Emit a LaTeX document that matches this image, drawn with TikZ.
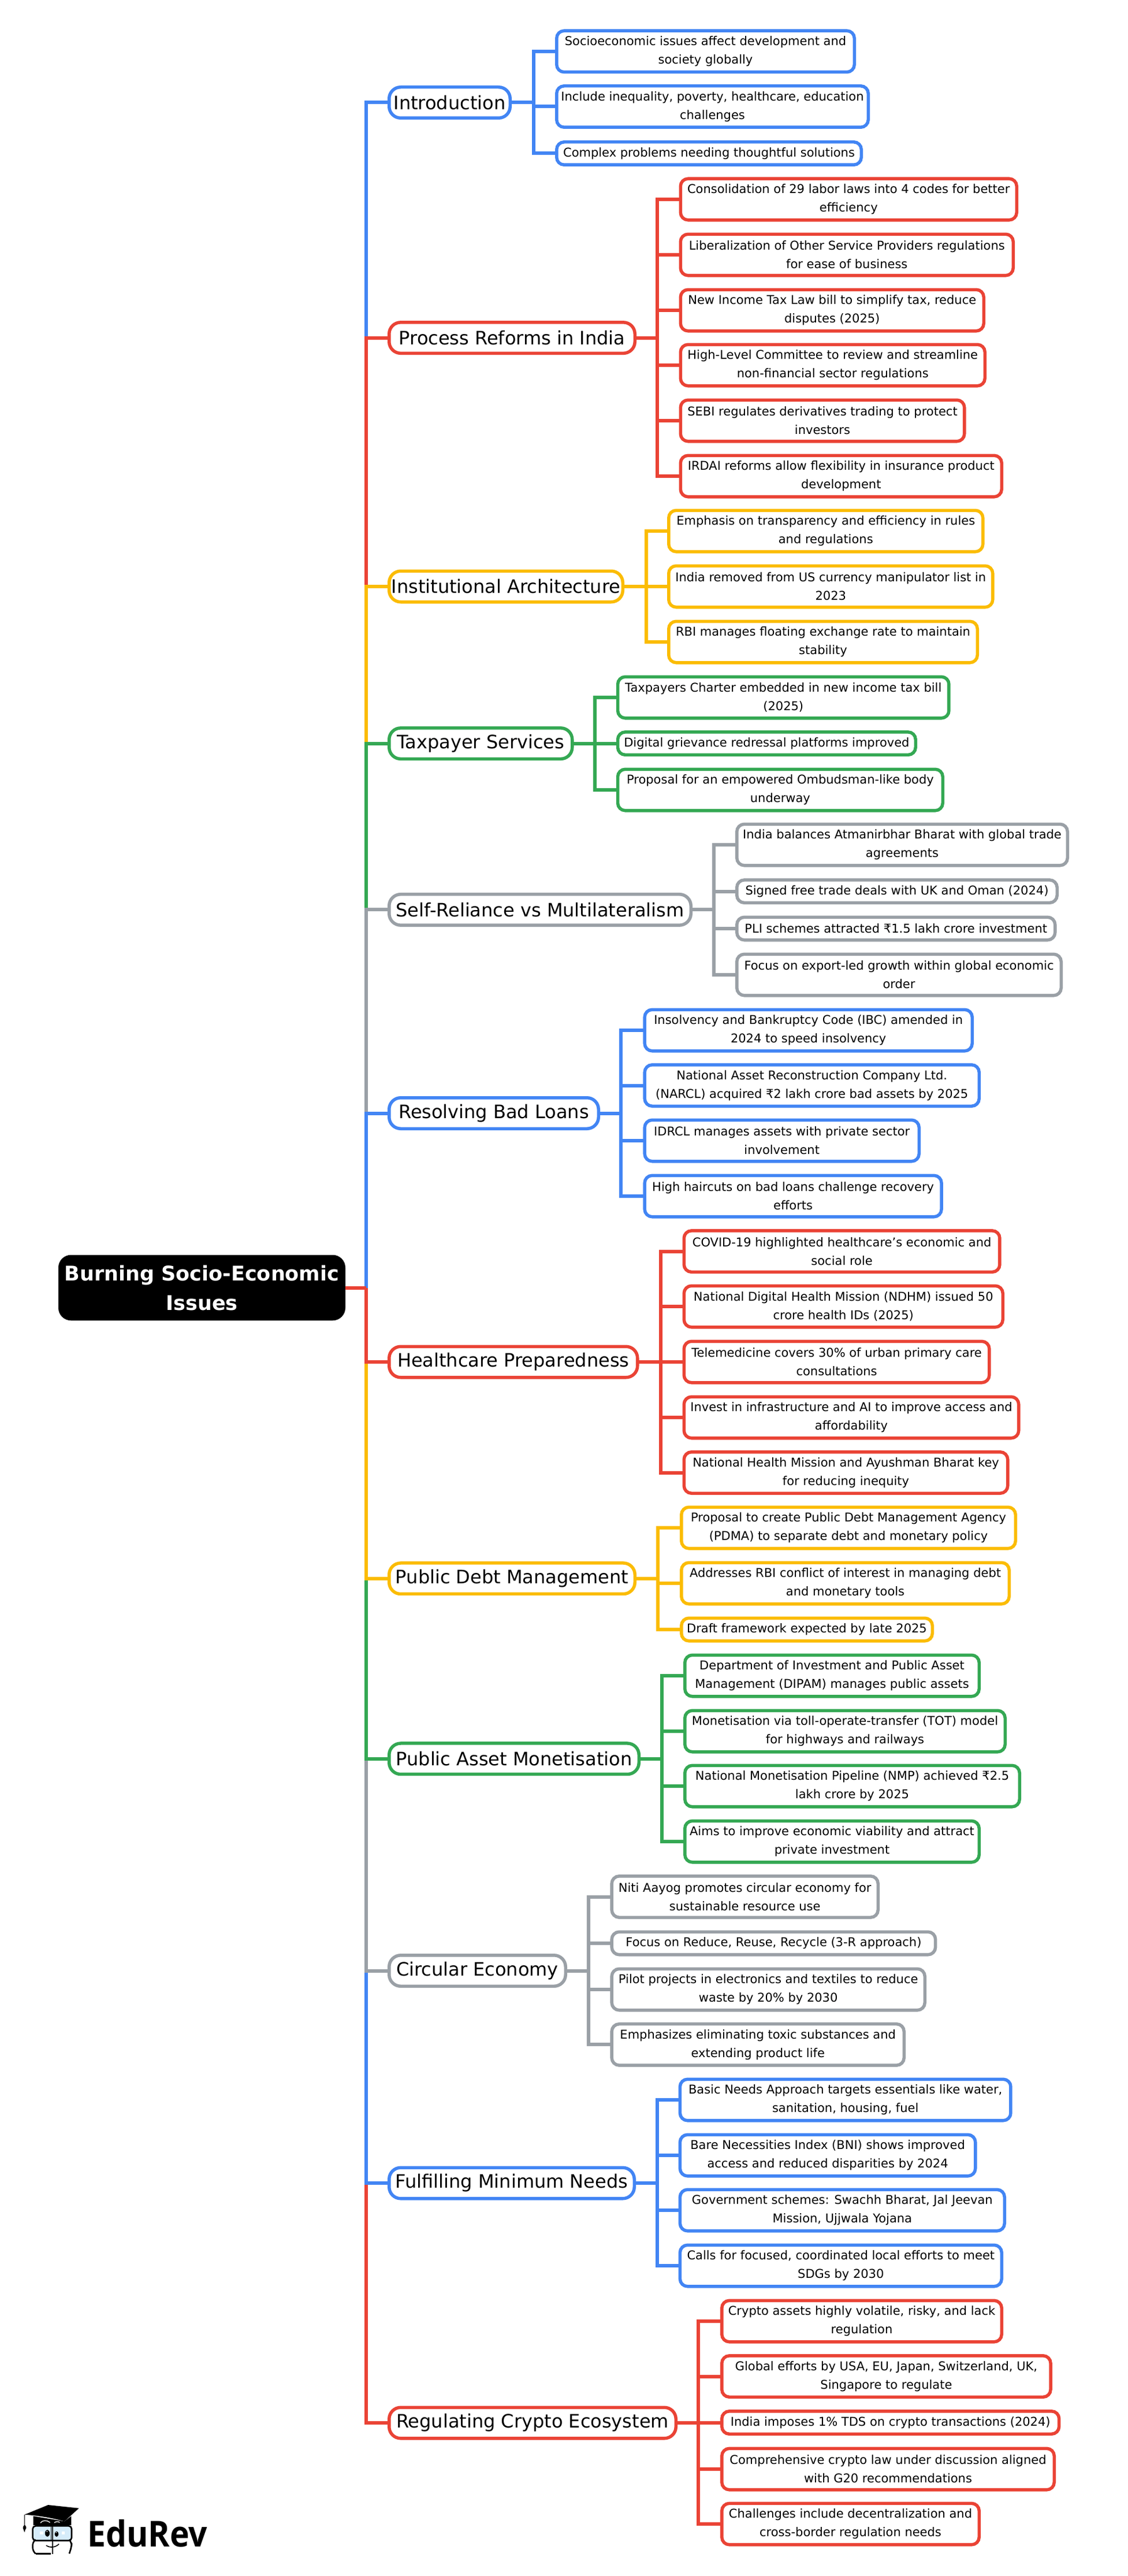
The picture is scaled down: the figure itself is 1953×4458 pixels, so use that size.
\documentclass[tikz,border=0pt]{standalone}
\usepackage{fontspec}
\setmainfont{DejaVu Sans}
\newfontfamily\logofont[FakeStretch=0.92]{Open Sans}
\definecolor{cblue}{HTML}{4285F4}
\definecolor{cred}{HTML}{EA4335}
\definecolor{cyellow}{HTML}{FBBC04}
\definecolor{cgreen}{HTML}{34A853}
\definecolor{cgray}{HTML}{9AA0A6}
\definecolor{cface}{HTML}{D6ECFA}
\tikzset{
  boxbase/.style={draw=#1,fill=white,line width=5.5pt,inner sep=0pt,outer sep=0pt,align=center,text=black},
  leaftwo/.style={boxbase=#1,rounded corners=13pt,minimum height=71.5pt,font=\fontsize{21}{32}\selectfont},
  leafone/.style={boxbase=#1,rounded corners=13pt,minimum height=39.5pt,font=\fontsize{21}{32}\selectfont},
  branchbox/.style={boxbase=#1,rounded corners=20pt,minimum height=53.5pt,font=\fontsize{32}{40}\selectfont},
  rootbox/.style={fill=black,text=white,inner sep=0pt,outer sep=0pt,align=center,rounded corners=22pt,minimum height=113.5pt,font=\bfseries\fontsize{35}{51}\selectfont},
  conn/.style={draw=#1,line width=6pt,miter limit=10},
}
\newcommand\boxat[6]{\node[#2,minimum width={#4-#3-5.5}] (#1) at ({(#3+#4)/2},#5) {#6};}
\begin{document}
\begin{tikzpicture}[x=1pt,y=-1pt]
\useasboundingbox (0,0) rectangle (1953,4458);
\fill[white] (0,0) rectangle (1953,4458);

% root
\node[rootbox,minimum width=497pt] (root) at (349.5,2228.5) {Burning Socio-Economic\\Issues};
\coordinate (trunk) at (634,2228.5);

% branches
\boxat{ba}{branchbox=cblue}{671}{886}{177.5}{Introduction}
\boxat{bb}{branchbox=cred}{671}{1102}{584.6}{Process Reforms in India}
\boxat{bc}{branchbox=cyellow}{671}{1081}{1015}{Institutional Architecture}
\boxat{bd}{branchbox=cgreen}{671}{993.5}{1286.6}{Taxpayer Services}
\boxat{be}{branchbox=cgray}{671}{1199}{1574.4}{Self-Reliance vs Multilateralism}
\boxat{bf}{branchbox=cblue}{671}{1039}{1926.5}{Resolving Bad Loans}
\boxat{bg}{branchbox=cred}{671}{1106.5}{2357}{Healthcare Preparedness}
\boxat{bh}{branchbox=cyellow}{671}{1102}{2731.7}{Public Debt Management}
\boxat{bi}{branchbox=cgreen}{671}{1109}{3043.7}{Public Asset Monetisation}
\boxat{bj}{branchbox=cgray}{671}{982}{3410.5}{Circular Economy}
\boxat{bk}{branchbox=cblue}{671}{1101}{3778}{Fulfilling Minimum Needs}
\boxat{bl}{branchbox=cred}{671}{1173}{4193}{Regulating Crypto Ecosystem}

% leaves
\boxat{a1}{leaftwo=cblue}{961}{1482}{89}{Socioeconomic issues affect development and\\society globally}
\boxat{a2}{leaftwo=cblue}{961}{1506}{184.5}{Include inequality, poverty, healthcare, education\\challenges}
\boxat{a3}{leafone=cblue}{961}{1494}{265.5}{Complex problems needing thoughtful solutions}

\boxat{b1}{leaftwo=cred}{1175.5}{1763}{345}{Consolidation of 29 labor laws into 4 codes for better\\efficiency}
\boxat{b2}{leaftwo=cred}{1175.5}{1757}{441}{Liberalization of Other Service Providers regulations\\for ease of business}
\boxat{b3}{leaftwo=cred}{1175.5}{1706}{537}{New Income Tax Law bill to simplify tax, reduce\\disputes (2025)}
\boxat{b4}{leaftwo=cred}{1175.5}{1708}{632}{High-Level Committee to review and streamline\\non-financial sector regulations}
\boxat{b5}{leaftwo=cred}{1175.5}{1672.5}{728}{SEBI regulates derivatives trading to protect\\investors}
\boxat{b6}{leaftwo=cred}{1175.5}{1737}{824}{IRDAI reforms allow flexibility in insurance product\\development}

\boxat{c1}{leaftwo=cyellow}{1155}{1704.5}{919}{Emphasis on transparency and efficiency in rules\\and regulations}
\boxat{c2}{leaftwo=cyellow}{1155}{1721.5}{1015}{India removed from US currency manipulator list in\\2023}
\boxat{c3}{leaftwo=cyellow}{1155}{1695}{1111}{RBI manages floating exchange rate to maintain\\stability}

\boxat{d1}{leaftwo=cgreen}{1066.8}{1645.7}{1207}{Taxpayers Charter embedded in new income tax bill\\(2025)}
\boxat{d2}{leafone=cgreen}{1066.8}{1588}{1286.6}{Digital grievance redressal platforms improved}
\boxat{d3}{leaftwo=cgreen}{1066.8}{1635}{1367}{Proposal for an empowered Ombudsman-like body\\underway}

\boxat{e1}{leaftwo=cgray}{1273}{1851}{1462}{India balances Atmanirbhar Bharat with global trade\\agreements}
\boxat{e2}{leafone=cgray}{1273}{1833}{1542.6}{Signed free trade deals with UK and Oman (2024)}
\boxat{e3}{leafone=cgray}{1273}{1829.5}{1607}{PLI schemes attracted ₹1.5 lakh crore investment}
\boxat{e4}{leaftwo=cgray}{1273}{1840}{1687}{Focus on export-led growth within global economic\\order}

\boxat{f1}{leaftwo=cblue}{1113.4}{1686}{1783}{Insolvency and Bankruptcy Code (IBC) amended in\\2024 to speed insolvency}
\boxat{f2}{leaftwo=cblue}{1113.4}{1698}{1878.5}{National Asset Reconstruction Company Ltd.\\(NARCL) acquired ₹2 lakh crore bad assets by 2025}
\boxat{f3}{leaftwo=cblue}{1113.4}{1594}{1974}{IDRCL manages assets with private sector\\involvement}
\boxat{f4}{leaftwo=cblue}{1113.4}{1632.8}{2070}{High haircuts on bad loans challenge recovery\\efforts}

\boxat{g1}{leaftwo=cred}{1181.5}{1733.7}{2165.6}{COVID-19 highlighted healthcare's economic and\\social role}
\boxat{g2}{leaftwo=cred}{1181.5}{1739}{2261}{National Digital Health Mission (NDHM) issued 50\\crore health IDs (2025)}
\boxat{g3}{leaftwo=cred}{1181.5}{1715.6}{2357}{Telemedicine covers 30\% of urban primary care\\consultations}
\boxat{g4}{leaftwo=cred}{1181.5}{1766.5}{2453}{Invest in infrastructure and AI to improve access and\\affordability}
\boxat{g5}{leaftwo=cred}{1181.5}{1747.5}{2548.5}{National Health Mission and Ayushman Bharat key\\for reducing inequity}

\boxat{h1}{leaftwo=cyellow}{1177}{1761}{2644}{Proposal to create Public Debt Management Agency\\(PDMA) to separate debt and monetary policy}
\boxat{h2}{leaftwo=cyellow}{1177}{1750}{2740}{Addresses RBI conflict of interest in managing debt\\and monetary tools}
\boxat{h3}{leafone=cyellow}{1177}{1617}{2820}{Draft framework expected by late 2025}

\boxat{i1}{leaftwo=cgreen}{1183}{1698}{2900}{Department of Investment and Public Asset\\Management (DIPAM) manages public assets}
\boxat{i2}{leaftwo=cgreen}{1183}{1743}{2996}{Monetisation via toll-operate-transfer (TOT) model\\for highways and railways}
\boxat{i3}{leaftwo=cgreen}{1183}{1768}{3091}{National Monetisation Pipeline (NMP) achieved ₹2.5\\lakh crore by 2025}
\boxat{i4}{leaftwo=cgreen}{1183}{1698}{3187}{Aims to improve economic viability and attract\\private investment}

\boxat{j1}{leaftwo=cgray}{1056.4}{1523}{3282.5}{Niti Aayog promotes circular economy for\\sustainable resource use}
\boxat{j2}{leafone=cgray}{1056.4}{1622.4}{3363}{Focus on Reduce, Reuse, Recycle (3-R approach)}
\boxat{j3}{leaftwo=cgray}{1056.4}{1604}{3443}{Pilot projects in electronics and textiles to reduce\\waste by 20\% by 2030}
\boxat{j4}{leaftwo=cgray}{1056.4}{1568}{3538.4}{Emphasizes eliminating toxic substances and\\extending product life}

\boxat{k1}{leaftwo=cblue}{1174.6}{1752.7}{3634}{Basic Needs Approach targets essentials like water,\\sanitation, housing, fuel}
\boxat{k2}{leaftwo=cblue}{1174.6}{1691.5}{3730}{Bare Necessities Index (BNI) shows improved\\access and reduced disparities by 2024}
\boxat{k3}{leaftwo=cblue}{1174.6}{1742}{3825}{Government schemes: Swachh Bharat, Jal Jeevan\\Mission, Ujjwala Yojana}
\boxat{k4}{leaftwo=cblue}{1174.6}{1737}{3921}{Calls for focused, coordinated local efforts to meet\\SDGs by 2030}

\boxat{l1}{leaftwo=cred}{1247}{1737}{4017}{Crypto assets highly volatile, risky, and lack\\regulation}
\boxat{l2}{leaftwo=cred}{1247}{1821.8}{4112.5}{Global efforts by USA, EU, Japan, Switzerland, UK,\\Singapore to regulate}
\boxat{l3}{leafone=cred}{1247}{1836.4}{4192.5}{India imposes 1\% TDS on crypto transactions (2024)}
\boxat{l4}{leaftwo=cred}{1247}{1828}{4273}{Comprehensive crypto law under discussion aligned\\with G20 recommendations}
\boxat{l5}{leaftwo=cred}{1247}{1698}{4368}{Challenges include decentralization and\\cross-border regulation needs}

% trunk: farthest branches first, so nearer ones lie on top
\draw[conn=cred] (trunk) |- (bl.west);
\draw[conn=cblue] (trunk) |- (bk.west);
\draw[conn=cgray] (trunk) |- (bj.west);
\draw[conn=cgreen] (trunk) |- (bi.west);
\draw[conn=cyellow] (trunk) |- (bh.west);
\draw[conn=cred] (trunk) |- (bg.west);
\draw[conn=cblue] (trunk) |- (ba.west);
\draw[conn=cred] (trunk) |- (bb.west);
\draw[conn=cyellow] (trunk) |- (bc.west);
\draw[conn=cgreen] (trunk) |- (bd.west);
\draw[conn=cgray] (trunk) |- (be.west);
\draw[conn=cblue] (trunk) |- (bf.west);
\draw[conn=cred] (root.east) -- (trunk);

% branch spines and leaf connectors
\coordinate (sa) at (923.5,177.5);
\draw[conn=cblue] (ba.east) -- (sa);
\foreach \n in {a1,a2,a3} \draw[conn=cblue] (sa) |- (\n.west);
\coordinate (sb) at (1138,584.6);
\draw[conn=cred] (bb.east) -- (sb);
\foreach \n in {b1,b2,b3,b4,b5,b6} \draw[conn=cred] (sb) |- (\n.west);
\coordinate (sc) at (1118.5,1015);
\draw[conn=cyellow] (bc.east) -- (sc);
\foreach \n in {c1,c2,c3} \draw[conn=cyellow] (sc) |- (\n.west);
\coordinate (sd) at (1029.7,1286.6);
\draw[conn=cgreen] (bd.east) -- (sd);
\foreach \n in {d1,d2,d3} \draw[conn=cgreen] (sd) |- (\n.west);
\coordinate (se) at (1236,1574.4);
\draw[conn=cgray] (be.east) -- (se);
\foreach \n in {e1,e2,e3,e4} \draw[conn=cgray] (se) |- (\n.west);
\coordinate (sf) at (1075.4,1926.5);
\draw[conn=cblue] (bf.east) -- (sf);
\foreach \n in {f1,f2,f3,f4} \draw[conn=cblue] (sf) |- (\n.west);
\coordinate (sg) at (1144.4,2357);
\draw[conn=cred] (bg.east) -- (sg);
\foreach \n in {g1,g2,g3,g4,g5} \draw[conn=cred] (sg) |- (\n.west);
\coordinate (sh) at (1139,2731.7);
\draw[conn=cyellow] (bh.east) -- (sh);
\foreach \n in {h1,h2,h3} \draw[conn=cyellow] (sh) |- (\n.west);
\coordinate (si) at (1146,3043.7);
\draw[conn=cgreen] (bi.east) -- (si);
\foreach \n in {i1,i2,i3,i4} \draw[conn=cgreen] (si) |- (\n.west);
\coordinate (sj) at (1019,3410.5);
\draw[conn=cgray] (bj.east) -- (sj);
\foreach \n in {j1,j2,j3,j4} \draw[conn=cgray] (sj) |- (\n.west);
\coordinate (sk) at (1137.5,3778);
\draw[conn=cblue] (bk.east) -- (sk);
\foreach \n in {k1,k2,k3,k4} \draw[conn=cblue] (sk) |- (\n.west);
\coordinate (sl) at (1209,4193);
\draw[conn=cred] (bl.east) -- (sl);
\foreach \n in {l1,l2,l3,l4,l5} \draw[conn=cred] (sl) |- (\n.west);

% logo
\node[anchor=base west,inner sep=0pt,font=\logofont\bfseries\fontsize{62}{62}\selectfont] (logotext) at (151,4407) {EduRev};
\begin{scope}[shift={(20,4300)},x=0.3333pt,y=-0.3333pt]
  % face
  \fill[black] (113,163) -- (275,190) -- (310,163) -- (310,210) -- (113,210) -- cycle;
  \draw[white,line width=1.3pt] (150,198) .. controls (160,183) and (185,183) .. (200,196);
  \draw[white,line width=1.3pt] (222,197) .. controls (230,190) and (245,190) .. (250,196);
  \draw[black,line width=2.6pt,fill=cface,rounded corners=5pt] (110,214) rectangle (312,290);
  \draw[black,line width=2.6pt,rounded corners=6pt] (125,358) -- (110,345) -- (110,295) -- (118,290);
  \draw[black,line width=2.6pt] (125,358) -- (205,358);
  \draw[black,line width=2.6pt,rounded corners=6pt] (300,358) -- (312,320) -- (312,298) -- (304,290);
  \draw[black,line width=2pt] (212,210) -- (212,360);
  \draw[black,line width=1pt] (205,212) -- (205,290);
  % eyes
  \fill[black] (186,252) ellipse [x radius=12,y radius=18];
  \fill[black] (234,256) ellipse [x radius=10,y radius=14];
  \fill[white] (184,243) circle [radius=3];
  \fill[white] (232,248) circle [radius=3];
  \fill[white] (148,244) rectangle (164,258);
  \fill[white] (260,244) rectangle (276,258);
  % smile
  \draw[black,line width=1.6pt] (180,315) .. controls (200,330) and (230,325) .. (246,308);
  % cap
  \fill[black] (68,155) -- (190,105) -- (350,122) -- (275,190) .. controls (205,170) and (130,160) .. (68,155) -- cycle;
  \draw[black,line width=1pt] (68,155) -- (68,215);
  \fill[black] (68,208) .. controls (60,215) and (56,225) .. (62,232) -- (67,247) -- (72,232) .. controls (80,225) and (76,215) .. (68,208) -- cycle;
\end{scope}
\end{tikzpicture}
\end{document}
